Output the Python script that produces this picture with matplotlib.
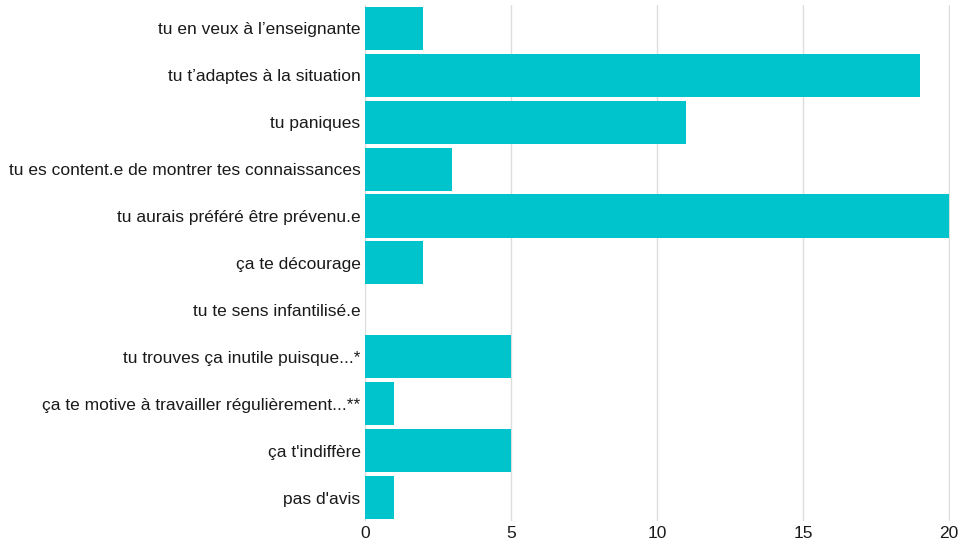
import matplotlib.pyplot as plt

plt.rcParams['font.family'] = ['Liberation Sans', 'DejaVu Sans']

labels = [
    "tu en veux à l\u2019enseignante",
    "tu t\u2019adaptes à la situation",
    "tu paniques",
    "tu es content.e de montrer tes connaissances",
    "tu aurais préféré être prévenu.e",
    "ça te décourage",
    "tu te sens infantilisé.e",
    "tu trouves ça inutile puisque...*",
    "ça te motive à travailler régulièrement...**",
    "ça t'indiffère",
    "pas d'avis",
]
values = [2, 19, 11, 3, 20, 2, 0, 5, 1, 5, 1]
xticks = [0, 5, 10, 15, 20]

fig = plt.figure(figsize=(9.65, 5.44), dpi=100)
ax = fig.add_axes([0.378, 0.0414, 0.6065, 0.9503])

ypos = list(range(len(labels)))
ax.barh(ypos, values, height=0.915, color='#00C4CC', linewidth=0, zorder=2)

ax.set_ylim(len(labels) - 0.5, -0.5)
ax.set_xlim(0, 20.03)
ax.set_yticks(ypos)
ax.set_yticklabels(labels, fontsize=12.5, color='#1a1a1a')
ax.set_xticks(xticks)
ax.set_xticklabels([str(t) for t in xticks], fontsize=12.5, color='#1a1a1a')
ax.tick_params(length=0, pad=3)
ax.tick_params(axis='y', pad=3)
ax.grid(axis='x', color='#dddddd', linewidth=1, zorder=0)
for s in ax.spines.values():
    s.set_visible(False)

fig.savefig('out.png', dpi=100)
